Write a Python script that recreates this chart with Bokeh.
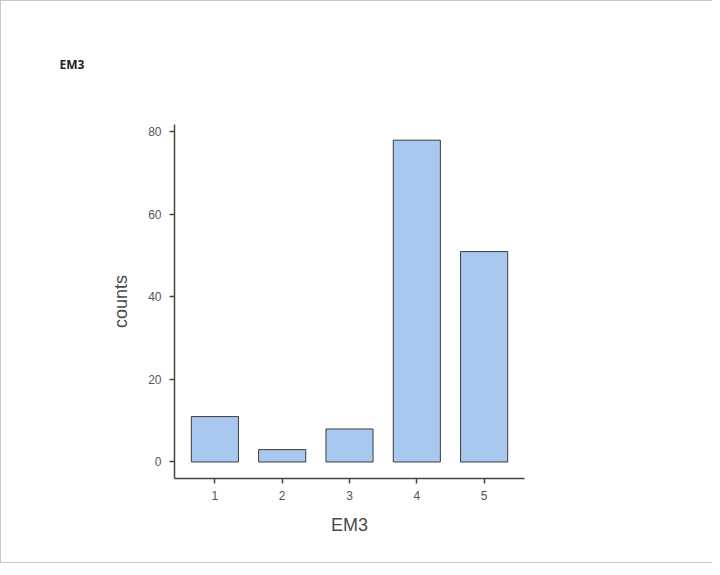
from bokeh.plotting import figure
from bokeh.models import Range1d, FixedTicker, ColumnDataSource
from bokeh.embed import file_html
from bokeh.resources import INLINE

categories = [1, 2, 3, 4, 5]
counts = [11, 3, 8, 78, 51]
y_ticks = [0, 20, 40, 60, 80]

src = ColumnDataSource(dict(x=categories, top=counts))

p = figure(width=712, height=563, output_backend="svg", toolbar_location=None,
           x_range=Range1d(0.4, 5.6), y_range=Range1d(-4, 81.8),
           min_border_left=173, min_border_top=122, min_border_right=189, min_border_bottom=86)

p.vbar(x="x", top="top", bottom=0, width=0.7, source=src,
       fill_color="#a9c8f0", line_color="#3c3c3c", line_width=1)

p.title.text = "EM3"
p.title.align = "left"
p.title.offset = -115
p.title.standoff = 104
p.title.text_font = "Open Sans"
p.title.text_font_size = "12px"
p.title.text_font_style = "bold"
p.title.text_color = "#222222"

p.xgrid.visible = False
p.ygrid.visible = False
p.outline_line_color = None
p.background_fill_color = "white"
p.border_fill_color = "white"

for ax in (p.xaxis[0], p.yaxis[0]):
    ax.axis_line_color = "#444444"
    ax.axis_line_width = 1.5
    ax.major_tick_line_color = "#444444"
    ax.major_tick_line_width = 1.5
    ax.major_tick_in = 0
    ax.major_tick_out = 5
    ax.minor_tick_line_color = None
    ax.major_label_text_font = "Liberation Sans"
    ax.major_label_text_font_size = "12px"
    ax.major_label_text_color = "#555555"
    ax.axis_label_text_font = "Liberation Sans"
    ax.axis_label_text_font_size = "18px"
    ax.axis_label_text_font_style = "normal"
    ax.axis_label_text_color = "#4a4a4a"

p.xaxis.ticker = FixedTicker(ticks=categories)
p.yaxis.ticker = FixedTicker(ticks=y_ticks)
p.xaxis.axis_label = "EM3"
p.yaxis.axis_label = "counts"
p.xaxis.major_label_standoff = 7
p.yaxis.major_label_standoff = 8
p.xaxis.axis_label_standoff = 12
p.yaxis.axis_label_standoff = 14

p.styles = {"border-top": "1px solid #c8c8c8", "border-left": "1px solid #c8c8c8",
            "border-bottom": "1px solid #c8c8c8"}

open("out.html", "w").write(file_html(p, INLINE))
